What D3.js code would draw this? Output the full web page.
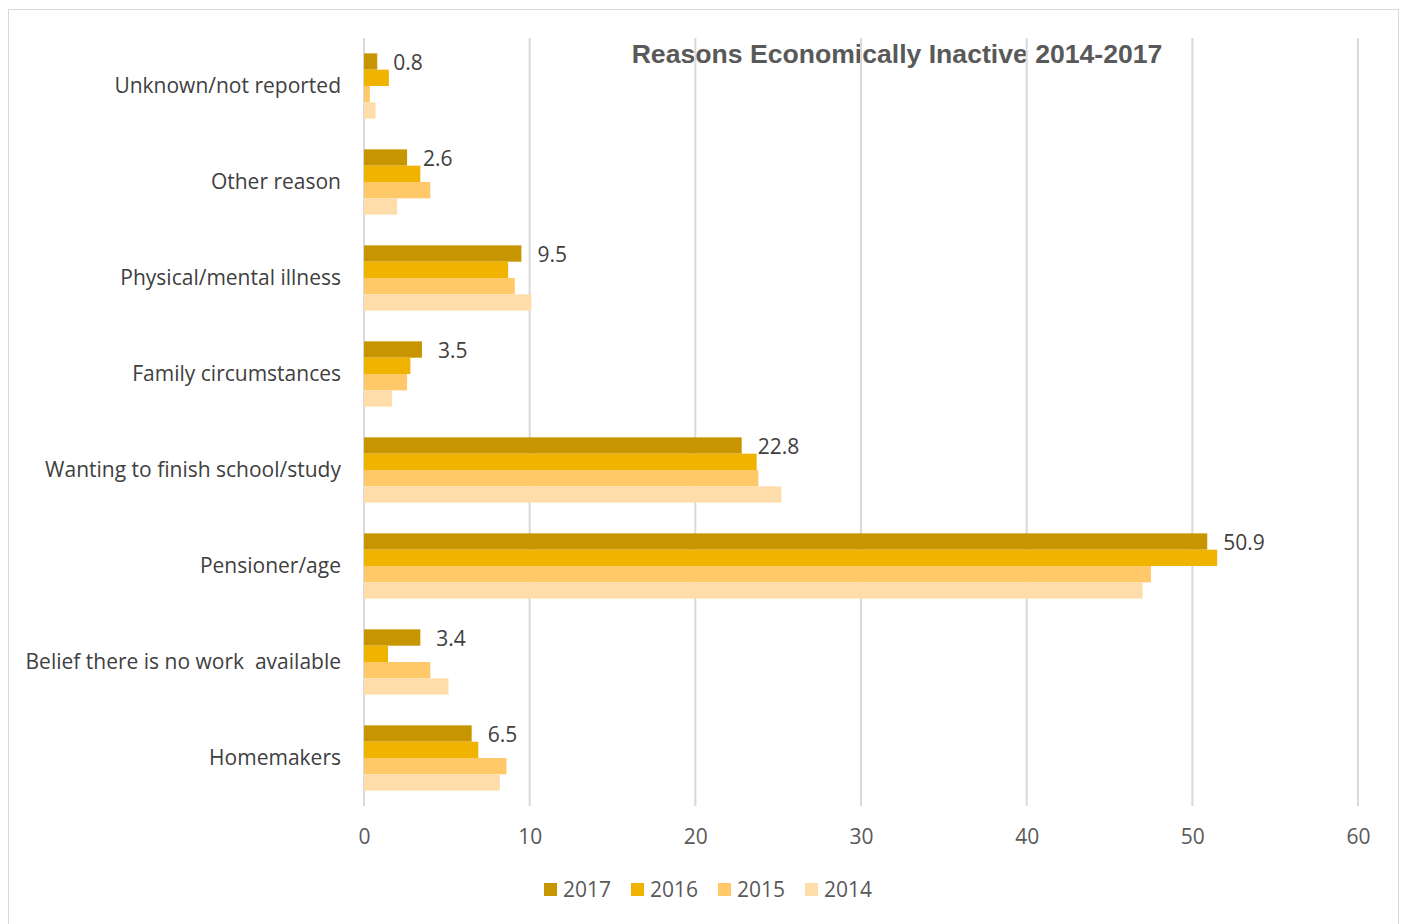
<!DOCTYPE html>
<html>
<head>
<meta charset="utf-8">
<script src="https://cdn.jsdelivr.net/npm/d3@7"></script>
<style>
  html, body { margin: 0; padding: 0; background: #ffffff; }
  svg { display: block; }
  text { white-space: pre; }
</style>
</head>
<body>
<svg id="chart" width="1403" height="924"></svg>
<script>
// Reasons for economic inactivity, percent of inactive population
const categories = [
  "Unknown/not reported",
  "Other reason",
  "Physical/mental illness",
  "Family circumstances",
  "Wanting to finish school/study",
  "Pensioner/age",
  "Belief there is no work  available",
  "Homemakers"
];
const years = ["2017", "2016", "2015", "2014"];
const values2017 = [0.8, 2.6, 9.5, 3.5, 22.8, 50.9, 3.4, 6.5];
const values2016 = [1.5, 3.4, 8.7, 2.8, 23.7, 51.5, 1.45, 6.9];
const values2015 = [0.35, 4.0, 9.1, 2.6, 23.8, 47.5, 4.0, 8.6];
const values2014 = [0.7, 2.0, 10.1, 1.7, 25.2, 47.0, 5.1, 8.2];
const xTicks = [0, 10, 20, 30, 40, 50, 60];
const colors = ["#C79500", "#F0B300", "#FFC869", "#FFDDAB"];

const seriesValues = [values2017, values2016, values2015, values2014];

const svg = d3.select("#chart");
const font = "'Open Sans', 'Noto Sans', sans-serif";
const fontSize = 21;

// chart frame
svg.append("rect")
  .attr("x", 8.5).attr("y", 9.5)
  .attr("width", 1390).attr("height", 930)
  .attr("fill", "#ffffff")
  .attr("stroke", "#D9D9D9").attr("stroke-width", 1);

const plot = { left: 364, right: 1358, top: 38, bottom: 806 };

const x = d3.scaleLinear().domain([0, 60]).range([plot.left, plot.right]);
const y = d3.scaleBand().domain(categories).range([plot.top, plot.bottom]).paddingInner(0.32).paddingOuter(0.16);
const ySub = d3.scaleBand().domain(years).range([0, y.bandwidth()]);

// title (drawn beneath gridlines)
svg.append("text")
  .attr("x", 897).attr("y", 63)
  .attr("text-anchor", "middle")
  .attr("font-family", "'Liberation Sans', Arial, sans-serif")
  .attr("font-weight", "bold")
  .attr("font-size", 26.6)
  .attr("fill", "#595959")
  .text("Reasons Economically Inactive 2014-2017");

// vertical gridlines
svg.append("g")
  .selectAll("line")
  .data(xTicks)
  .join("line")
  .attr("x1", d => x(d)).attr("x2", d => x(d))
  .attr("y1", plot.top).attr("y2", plot.bottom)
  .attr("stroke", "#D9D9D9").attr("stroke-width", 2);

// bars
const groups = svg.append("g")
  .selectAll("g")
  .data(categories)
  .join("g")
  .attr("transform", d => `translate(0,${y(d)})`);

groups.selectAll("rect")
  .data((c, i) => years.map((yr, s) => ({ yr, s, v: seriesValues[s][i] })))
  .join("rect")
  .attr("x", x(0))
  .attr("y", d => ySub(d.yr))
  .attr("width", d => x(d.v) - x(0))
  .attr("height", ySub.bandwidth())
  .attr("fill", d => colors[d.s]);

// data labels for the latest year
svg.append("g")
  .selectAll("text")
  .data(categories)
  .join("text")
  .attr("x", (c, i) => x(values2017[i]) + 16)
  .attr("y", c => y(c) + ySub("2017") + ySub.bandwidth() / 2 + 1)
  .attr("dy", "0.35em")
  .attr("font-family", font)
  .attr("font-size", fontSize)
  .attr("fill", "#404040")
  .text((c, i) => values2017[i].toFixed(1));

// category axis
const yAxis = d3.axisLeft(y).tickSize(0).tickPadding(23);
const gy = svg.append("g").attr("transform", `translate(${plot.left},0)`).call(yAxis);
gy.select(".domain").remove();
gy.selectAll("text")
  .attr("font-family", font)
  .attr("font-size", fontSize)
  .attr("fill", "#404040");

// value axis
const xAxis = d3.axisBottom(x).tickValues(xTicks).tickSize(0).tickPadding(23).tickFormat(d3.format("d"));
const gx = svg.append("g").attr("transform", `translate(0,${plot.bottom})`).call(xAxis);
gx.select(".domain").remove();
gx.selectAll("text")
  .attr("font-family", font)
  .attr("font-size", fontSize)
  .attr("fill", "#595959");

// legend
const legendX = [544, 631, 718, 805];
const legend = svg.append("g")
  .selectAll("g")
  .data(years)
  .join("g")
  .attr("transform", (d, i) => `translate(${legendX[i]},883)`);
legend.append("rect")
  .attr("width", 13).attr("height", 13)
  .attr("fill", (d, i) => colors[i]);
legend.append("text")
  .attr("x", 19).attr("y", 6.5)
  .attr("dy", "0.35em")
  .attr("font-family", font)
  .attr("font-size", fontSize)
  .attr("fill", "#595959")
  .text(d => d);
</script>
</body>
</html>
